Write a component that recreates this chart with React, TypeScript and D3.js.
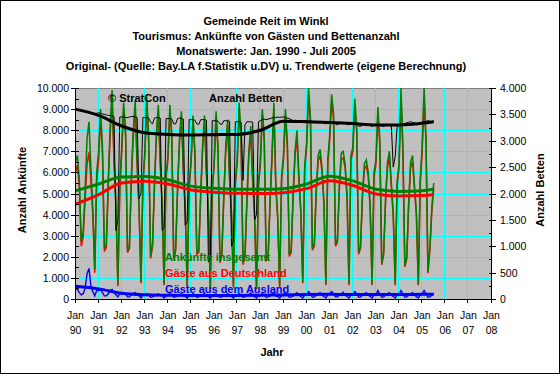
import * as d3 from "d3";
import { useEffect, useRef } from "react";

// Monatswerte Jan. 1990 - Juli 2005 (one row per year)
const startYear = 1990;

const arrivalsTotal = [
  6500, 6800, 5600, 2700, 3200, 5200, 7600, 8400, 6200, 4300, 1400, 6000,
  7000, 9000, 7200, 2400, 2600, 5600, 8200, 9900, 6800, 4600, 700, 5400,
  7200, 9300, 8000, 2300, 2500, 5800, 8000, 9400, 6500, 4400, 800, 5600,
  7000, 9600, 7600, 2000, 2600, 5500, 7800, 9200, 6600, 4500, 700, 5900,
  6800, 9200, 7800, 1900, 2400, 5300, 7600, 8900, 6200, 4200, 600, 5400,
  6600, 8700, 7000, 2200, 2300, 5000, 7300, 8700, 6000, 4300, 500, 5300,
  6500, 8900, 7200, 1800, 2200, 4900, 7200, 8500, 5800, 4100, 600, 5600,
  6700, 9300, 7500, 1700, 2100, 4700, 7000, 8200, 5700, 4000, 500, 5500,
  6600, 9000, 7700, 1900, 2000, 4600, 6800, 9300, 5500, 3900, 600, 5800,
  6800, 9000, 7400, 2100, 2300, 5000, 7000, 8000, 5800, 4200, 800, 6300,
  7400, 10000, 8600, 2400, 2600, 5200, 6800, 7100, 6200, 4600, 700, 6600,
  7800, 9700, 8800, 2600, 2800, 5400, 6900, 7000, 6400, 4900, 700, 6800,
  7200, 9500, 8200, 2200, 2500, 5000, 6400, 6600, 6000, 4400, 700, 6000,
  6600, 9100, 7600, 1700, 2200, 4800, 6500, 7000, 5500, 4000, 700, 5600,
  6400, 10000, 7200, 1600, 2000, 4600, 6500, 6800, 5400, 4100, 700, 5700,
  7200, 10000, 7600, 1300, 2400, 4300, 5500,
];

const arrivalsGermany = [
  6000, 6350, 5300, 2500, 2950, 4700, 6400, 6950, 5600, 3950, 1250, 5600,
  6600, 8550, 6900, 2250, 2450, 5350, 7800, 9450, 6500, 4400, 600, 5150,
  6950, 9000, 7750, 2200, 2400, 5600, 7750, 9100, 6300, 4250, 750, 5400,
  6800, 9350, 7400, 1920, 2500, 5350, 7600, 8950, 6420, 4350, 650, 5750,
  6600, 8950, 7600, 1820, 2300, 5150, 7400, 8650, 6020, 4080, 550, 5250,
  6420, 8450, 6800, 2120, 2200, 4850, 7100, 8450, 5850, 4180, 450, 5150,
  6300, 8650, 7020, 1720, 2100, 4750, 7000, 8250, 5650, 3980, 550, 5450,
  6500, 9050, 7300, 1620, 2000, 4550, 6800, 7920, 5550, 3880, 450, 5350,
  6400, 8750, 7500, 1820, 1900, 4450, 6580, 9020, 5350, 3780, 550, 5650,
  6600, 8700, 7200, 2020, 2200, 4850, 6780, 7700, 5620, 4080, 750, 6120,
  7180, 9650, 8350, 2320, 2500, 5020, 6550, 6800, 6020, 4480, 650, 6400,
  7550, 9350, 8550, 2500, 2700, 5220, 6650, 6680, 6220, 4780, 650, 6600,
  6980, 9150, 7950, 2120, 2400, 4820, 6150, 6300, 5820, 4280, 650, 5800,
  6400, 8700, 7350, 1620, 2100, 4620, 6250, 6700, 5320, 3880, 650, 5400,
  6200, 9600, 6950, 1520, 1900, 4420, 6250, 6500, 5220, 3980, 650, 5500,
  6980, 9600, 7350, 1220, 2300, 4120, 5250,
];

const arrivalsForeign = [
  500, 450, 300, 200, 250, 500, 1200, 1450, 600, 350, 150, 400,
  400, 450, 300, 150, 150, 250, 400, 450, 300, 200, 100, 250,
  250, 300, 250, 100, 100, 200, 250, 300, 200, 150, 50, 200,
  200, 250, 200, 80, 100, 150, 200, 250, 180, 150, 50, 150,
  200, 250, 200, 80, 100, 150, 200, 250, 180, 120, 50, 150,
  180, 250, 200, 80, 100, 150, 200, 250, 150, 120, 50, 150,
  200, 250, 180, 80, 100, 150, 200, 250, 150, 120, 50, 150,
  200, 250, 200, 80, 100, 150, 200, 280, 150, 120, 50, 150,
  200, 250, 200, 80, 100, 150, 220, 280, 150, 120, 50, 150,
  200, 300, 200, 80, 100, 150, 220, 300, 180, 120, 50, 180,
  220, 350, 250, 80, 100, 180, 250, 300, 180, 120, 50, 200,
  250, 350, 250, 100, 100, 180, 250, 320, 180, 120, 50, 200,
  220, 350, 250, 80, 100, 180, 250, 300, 180, 120, 50, 200,
  200, 400, 250, 80, 100, 180, 250, 300, 180, 120, 50, 200,
  200, 400, 250, 80, 100, 180, 250, 300, 180, 120, 50, 200,
  220, 400, 250, 80, 100, 180, 250,
];

const beds = [
  3600, 3590, 3580, 3570, 3560, 3560, 3550, 3550, 3540, 3530, 3520, 3520,
  3530, 3520, 3510, 3500, 3490, 3480, 3480, 3470, 3460, 1300, 1500, 3450,
  3450, 3450, 3440, 3440, 3450, 3460, 3460, 3450, 3440, 1900, 2000, 3440,
  3440, 3440, 3430, 3350, 3320, 3430, 3440, 3440, 3430, 1300, 1350, 3420,
  3420, 3420, 3410, 3320, 3320, 3420, 3430, 3420, 3410, 1400, 1450, 3400,
  3400, 3400, 3390, 3320, 3310, 3400, 3400, 3400, 3390, 700, 800, 3380,
  3380, 3380, 3370, 3320, 3310, 3380, 3380, 3380, 3370, 1000, 1100, 3360,
  3360, 3360, 3350, 2250, 3300, 3360, 3360, 3360, 3350, 1500, 1600, 3360,
  3380, 3400, 3410, 3400, 3410, 3420, 3430, 3440, 3440, 3450, 3440, 3450,
  3450, 3440, 3430, 3420, 3400, 3380, 3390, 3380, 3380, 3370, 3360, 3380,
  3380, 3370, 3380, 3360, 3350, 3340, 3360, 3370, 3350, 3340, 3320, 3350,
  3360, 3350, 3340, 3320, 3300, 3330, 3350, 3340, 3330, 3320, 3300, 3330,
  3330, 3320, 3310, 3280, 3270, 3300, 3320, 3310, 3300, 3290, 3270, 3300,
  3300, 3290, 3300, 3280, 3270, 3290, 3300, 3290, 3280, 2500, 2700, 3280,
  3300, 3310, 3320, 3330, 3340, 3350, 3360, 3350, 3340, 3330, 3320, 3340,
  3350, 3360, 3370, 3380, 3370, 3360, 3380,
];

// Trendwerte, read at each January (plus July 2005)
const trendYears = [
  1990, 1991, 1992, 1993, 1994, 1995, 1996, 1997, 1998, 1999, 2000, 2001,
  2002, 2003, 2004, 2005, 2005.5,
];
const trendTotal = [
  5130, 5450, 5780, 5800, 5650, 5350, 5250, 5200, 5200, 5230, 5450, 5820,
  5600, 5200, 5100, 5130, 5200,
];
const trendGermany = [
  4500, 4950, 5500, 5580, 5450, 5170, 5060, 5010, 5000, 5040, 5230, 5600,
  5380, 4980, 4880, 4900, 4950,
];
const trendForeign = [
  600, 480, 270, 200, 180, 170, 170, 170, 180, 190, 210, 220, 210, 210, 210,
  220, 220,
];
const trendBeds = [
  3600, 3480, 3280, 3150, 3120, 3110, 3115, 3120, 3200, 3370, 3360, 3345,
  3325, 3300, 3300, 3330, 3360,
];

const tickYears = [
  "90", "91", "92", "93", "94", "95", "96", "97", "98", "99", "00", "01",
  "02", "03", "04", "05", "06", "07", "08",
];

const titleLines = [
  "Gemeinde Reit im Winkl",
  "Tourismus: Ankünfte von Gästen und Bettenanzahl",
  "Monatswerte: Jan. 1990 - Juli 2005",
  "Original- (Quelle: Bay.LA f.Statistik u.DV) u. Trendwerte (eigene Berechnung)",
];

export default function App() {
  const svgRef = useRef<SVGSVGElement>(null);

  useEffect(() => {
    const W = 560;
    const H = 374;
    const left = 75.5;
    const right = 491.5;
    const top = 88;
    const bottom = 299;
    const font = "'Liberation Sans', Arial, sans-serif";

    const svg = d3.select(svgRef.current);
    svg.selectAll("*").remove();

    const x = d3.scaleLinear().domain([1990, 2008]).range([left, right]);
    const yL = d3.scaleLinear().domain([0, 10000]).range([bottom, top]);
    const yR = d3.scaleLinear().domain([0, 4000]).range([bottom, top]);
    const fmt = d3
      .formatLocale({ decimal: ",", thousands: ".", grouping: [3], currency: ["", ""] })
      .format(",");

    svg.append("rect").attr("width", W).attr("height", H).attr("fill", "#fff");

    // title
    svg
      .append("g")
      .selectAll("text")
      .data(titleLines)
      .enter()
      .append("text")
      .attr("x", 266)
      .attr("y", (_, i) => 25 + i * 15)
      .attr("text-anchor", "middle")
      .attr("font-family", font)
      .attr("font-weight", "bold")
      .attr("font-size", 11)
      .text((d) => d);

    // plot area
    svg
      .append("rect")
      .attr("x", left)
      .attr("y", top)
      .attr("width", right - left)
      .attr("height", bottom - top)
      .attr("fill", "#c0c0c0")
      .attr("stroke", "#808080")
      .attr("shape-rendering", "crispEdges");

    const grid = svg.append("g").attr("stroke", "#00ffff").attr("shape-rendering", "crispEdges");
    grid
      .selectAll("line.h")
      .data(d3.range(1000, 10000, 1000))
      .enter()
      .append("line")
      .attr("x1", left)
      .attr("x2", right)
      .attr("y1", (d) => Math.round(yL(d)) + 0.5)
      .attr("y2", (d) => Math.round(yL(d)) + 0.5);
    grid
      .selectAll("line.v")
      .data(d3.range(1991, 2009))
      .enter()
      .append("line")
      .attr("x1", (d) => Math.round(x(d)) - 0.5)
      .attr("x2", (d) => Math.round(x(d)) - 0.5)
      .attr("y1", top)
      .attr("y2", bottom);

    svg
      .append("clipPath")
      .attr("id", "plotclip")
      .append("rect")
      .attr("x", left)
      .attr("y", top - 1)
      .attr("width", right - left)
      .attr("height", bottom - top + 1);

    const plot = svg.append("g").attr("clip-path", "url(#plotclip)");

    const monthLine = (scale: d3.ScaleLinear<number, number>) =>
      d3
        .line<number>()
        .x((_, i) => x(startYear + i / 12))
        .y((d) => scale(d));
    const trendLine = (scale: d3.ScaleLinear<number, number>) =>
      d3
        .line<number>()
        .x((_, i) => x(trendYears[i]))
        .y((d) => scale(d))
        .curve(d3.curveMonotoneX);

    const addPath = (d: string | null, color: string, w: number) =>
      plot
        .append("path")
        .attr("d", d)
        .attr("fill", "none")
        .attr("stroke", color)
        .attr("stroke-width", w)
        .attr("stroke-linejoin", "miter");

    addPath(monthLine(yL)(arrivalsGermany), "#ff0000", 1.5);
    addPath(monthLine(yL)(arrivalsTotal), "#008000", 1.5);
    addPath(monthLine(yL)(arrivalsForeign), "#0000ff", 1.4);
    addPath(monthLine(yR)(beds), "#000000", 1);
    addPath(trendLine(yL)(trendGermany), "#ff0000", 3);
    addPath(trendLine(yL)(trendTotal), "#008000", 3);
    addPath(trendLine(yL)(trendForeign), "#0000ff", 3);
    addPath(trendLine(yR)(trendBeds), "#000000", 3);

    // axes
    const axes = svg.append("g").attr("stroke", "#000").attr("shape-rendering", "crispEdges");
    axes.append("line").attr("x1", left).attr("x2", left).attr("y1", top).attr("y2", bottom + 0.5);
    axes.append("line").attr("x1", right).attr("x2", right).attr("y1", top).attr("y2", bottom + 0.5);
    axes.append("line").attr("x1", left).attr("x2", right).attr("y1", bottom + 0.5).attr("y2", bottom + 0.5);

    axes
      .selectAll("line.lt")
      .data(d3.range(0, 10001, 500))
      .enter()
      .append("line")
      .attr("x1", (d) => (d % 1000 === 0 ? left - 5 : left))
      .attr("x2", left + 3)
      .attr("y1", (d) => Math.round(yL(d)) + 0.5)
      .attr("y2", (d) => Math.round(yL(d)) + 0.5);
    axes
      .selectAll("line.rt")
      .data(d3.range(0, 4001, 250))
      .enter()
      .append("line")
      .attr("x1", right - 3)
      .attr("x2", (d) => (d % 500 === 0 ? right + 4 : right))
      .attr("y1", (d) => Math.round(yR(d)) + 0.5)
      .attr("y2", (d) => Math.round(yR(d)) + 0.5);
    axes
      .selectAll("line.xt")
      .data(d3.range(1990, 2009))
      .enter()
      .append("line")
      .attr("x1", (d) => Math.round(x(d)) - 0.5)
      .attr("x2", (d) => Math.round(x(d)) - 0.5)
      .attr("y1", bottom)
      .attr("y2", bottom + 4);

    const labels = svg.append("g").attr("font-family", font).attr("font-size", 10.5).attr("fill", "#000");
    labels
      .selectAll("text.l")
      .data(d3.range(0, 10001, 1000))
      .enter()
      .append("text")
      .attr("x", 69)
      .attr("y", (d) => yL(d) + 4)
      .attr("text-anchor", "end")
      .text((d) => fmt(d));
    labels
      .selectAll("text.r")
      .data(d3.range(0, 4001, 500))
      .enter()
      .append("text")
      .attr("x", 500)
      .attr("y", (d) => yR(d) + 4)
      .text((d) => fmt(d));
    const xl = labels
      .selectAll("g.x")
      .data(tickYears)
      .enter()
      .append("g")
      .attr("transform", (_, i) => `translate(${x(1990 + i)},0)`);
    xl.append("text").attr("y", 319).attr("text-anchor", "middle").text("Jan");
    xl.append("text").attr("y", 334).attr("text-anchor", "middle").text((d) => d);

    // axis titles
    const bold = svg.append("g").attr("font-family", font).attr("font-weight", "bold").attr("font-size", 11);
    bold
      .append("text")
      .attr("transform", "translate(26,190) rotate(-90)")
      .attr("text-anchor", "middle")
      .text("Anzahl Ankünfte");
    bold
      .append("text")
      .attr("transform", "translate(544,190) rotate(-90)")
      .attr("text-anchor", "middle")
      .text("Anzahl Betten");
    bold.append("text").attr("x", 272).attr("y", 356).attr("text-anchor", "middle").text("Jahr");

    // in-plot labels
    bold.append("text").attr("x", 108).attr("y", 102).text("© StratCon");
    bold.append("text").attr("x", 209).attr("y", 102).text("Anzahl Betten");
    const legend = [
      { t: "Ankünfte insgesamt", c: "#008000" },
      { t: "Gäste aus Deutschland", c: "#ff0000" },
      { t: "Gäste aus dem Ausland", c: "#0000ff" },
    ];
    bold
      .selectAll("text.lg")
      .data(legend)
      .enter()
      .append("text")
      .attr("x", 165)
      .attr("y", (_, i) => 261 + i * 16)
      .attr("fill", (d) => d.c)
      .text((d) => d.t);

    // outer frame
    svg
      .append("rect")
      .attr("x", 0.5)
      .attr("y", 0.5)
      .attr("width", W - 1)
      .attr("height", H - 1)
      .attr("fill", "none")
      .attr("stroke", "#000")
      .attr("shape-rendering", "crispEdges");
  }, []);

  return (
    <svg
      ref={svgRef}
      width={560}
      height={374}
      style={{ position: "absolute", left: 0, top: 0 }}
    />
  );
}
